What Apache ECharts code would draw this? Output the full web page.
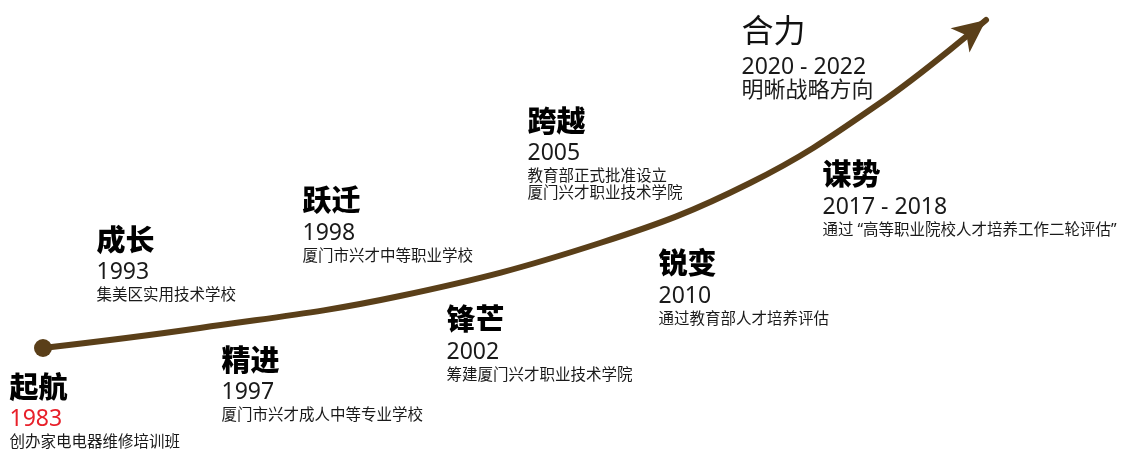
<!DOCTYPE html>
<html>
<head>
<meta charset="utf-8">
<script src="https://cdn.jsdelivr.net/npm/echarts@6/dist/echarts.min.js"></script>
<style>
html,body{margin:0;padding:0;background:#fff;}
#main{width:1136px;height:454px;}
</style>
</head>
<body>
<div id="main"></div>
<script>
// Timeline path
const pathX = [43, 200, 400, 600, 750, 880, 986];
const pathY = [348, 328, 296, 243, 183, 103, 20];

// Milestones
const titles = ['起航', '成长', '精进', '跃迁', '锋芒', '跨越', '锐变', '谋势', '合力'];
const years = ['1983', '1993', '1997', '1998', '2002', '2005', '2010', '2017 - 2018', '2020 - 2022'];
const descs = [
  ['创办家电电器维修培训班'],
  ['集美区实用技术学校'],
  ['厦门市兴才成人中等专业学校'],
  ['厦门市兴才中等职业学校'],
  ['筹建厦门兴才职业技术学院'],
  ['教育部正式批准设立', '厦门兴才职业技术学院'],
  ['通过教育部人才培养评估'],
  ['通过 “高等职业院校人才培养工作二轮评估”'],
  ['明晰战略方向']
];
const labelX = [10, 97, 222, 303, 447, 528, 659, 823, 742];
const labelY = [375, 228, 348, 188.5, 307.5, 109, 251.5, 162.5, 14.5];

const FONT = "'Noto Sans', 'Noto Sans CJK SC', sans-serif";
const BROWN = '#5a3f19';

const chart = echarts.init(document.getElementById('main'));

const n = pathX.length;
const dx = pathX[n - 1] - pathX[n - 2];
const dyUp = pathY[n - 2] - pathY[n - 1];
const arrowRot = Math.atan2(dyUp, dx) * 180 / Math.PI - 90;

const labelData = titles.map((t, i) => ({ value: [labelX[i], labelY[i]], idx: i }));

chart.setOption({
  backgroundColor: '#fff',
  animation: false,
  textStyle: { fontFamily: FONT },
  grid: { left: 0, right: 0, top: 0, bottom: 0 },
  xAxis: { type: 'value', min: 0, max: 1136, show: false },
  yAxis: { type: 'value', min: 0, max: 454, inverse: true, show: false },
  series: [
    {
      type: 'line',
      smooth: 0.4,
      symbol: 'none',
      data: pathX.map((x, i) => [x, pathY[i]]),
      lineStyle: { color: BROWN, width: 6, cap: 'round' },
      z: 2
    },
    {
      type: 'scatter',
      data: [[pathX[0], pathY[0]]],
      symbol: 'circle',
      symbolSize: 18,
      itemStyle: { color: BROWN, opacity: 1 },
      z: 3
    },
    {
      type: 'scatter',
      data: [[pathX[n - 1], pathY[n - 1]]],
      symbol: 'arrow',
      symbolSize: [23, 33],
      symbolRotate: arrowRot,
      itemStyle: { color: BROWN, opacity: 1 },
      z: 3
    },
    {
      type: 'scatter',
      symbolSize: 1,
      itemStyle: { color: 'rgba(0,0,0,0)', opacity: 1 },
      data: labelData,
      z: 4,
      label: {
        show: true,
        position: [0, 0],
        align: 'left',
        verticalAlign: 'top',
        fontFamily: FONT,
        formatter: function (p) {
          const i = p.data.idx;
          const big = i === titles.length - 1;
          const tS = big ? 'tb' : 't';
          const yS = i === 0 ? 'yr' : (big ? 'yb' : 'y');
          const dS = big ? 'db' : 'd';
          let s = '{' + tS + '|' + titles[i] + '}\n{' + yS + '|' + years[i] + '}';
          descs[i].forEach(line => { s += '\n{' + dS + '|' + line + '}'; });
          return s;
        },
        rich: {
          t: { fontSize: 29, fontWeight: 900, lineHeight: 30, color: '#000', fontFamily: FONT },
          tb: { fontSize: 32, fontWeight: 'normal', lineHeight: 38, color: '#111', fontFamily: FONT },
          y: { fontSize: 23, lineHeight: 30, color: '#1a1a1a', fontFamily: FONT },
          yb: { fontSize: 23, lineHeight: 30, color: '#1a1a1a', fontFamily: FONT },
          yr: { fontSize: 23, lineHeight: 30, color: '#e8202a', fontFamily: FONT },
          d: { fontSize: 15.5, lineHeight: 17, color: '#1a1a1a', fontFamily: FONT },
          db: { fontSize: 22, lineHeight: 17, color: '#1a1a1a', fontFamily: FONT }
        }
      }
    }
  ]
});
</script>
</body>
</html>
